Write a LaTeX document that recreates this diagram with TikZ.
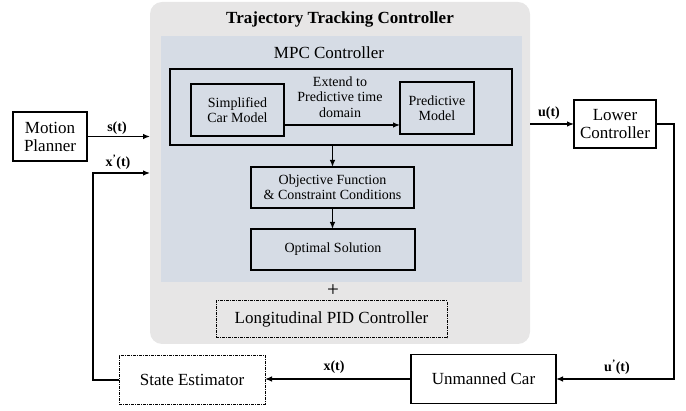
\documentclass[tikz,border=0pt]{standalone}
\usepackage{fontspec}
\setmainfont{Liberation Serif}
\usetikzlibrary{arrows.meta}
\definecolor{ttcgray}{HTML}{E7E6E6}
\definecolor{mpcblue}{HTML}{D6DCE5}
\newcommand\fsbig{\fontsize{17}{18}\selectfont}
\newcommand\fsmid{\fontsize{14}{15.3}\selectfont}
\newcommand\fslab{\fontsize{14}{15}\selectfont\bfseries}
\tikzset{
  blk/.style={draw, line width=1.2pt, inner sep=0pt, outer sep=0pt, align=center},
  dblk/.style={blk, line width=1pt, dash pattern=on 3pt off 1pt on 1pt off 1pt},
  area/.style={draw=none, inner sep=0pt, outer sep=0pt},
  arr/.style={-{Latex[length=7pt,width=5.5pt]}, line width=1.2pt},
  lab/.style={inner sep=0pt, font=\fslab},
}
\begin{document}
\begin{tikzpicture}[x=1pt,y=-1pt]
\useasboundingbox (0,0) rectangle (686,411);
% containers
\node[area, fill=ttcgray, rounded corners=12pt, minimum width=380pt, minimum height=342pt] (ttc) at (340,173) {};
\node[area, fill=mpcblue, minimum width=361pt, minimum height=246pt] (mpc) at (341.5,159) {};
\node[inner sep=0pt, font=\fsbig\bfseries] (ttct) at (340,19) {Trajectory Tracking Controller};
\node[inner sep=0pt, font=\fsbig] (mpct) at (329,53) {MPC Controller};
% MPC internals
\node[blk, minimum width=342pt, minimum height=76pt] (outer) at (341,107) {};
\node[blk, minimum width=93pt, minimum height=52pt, font=\fsmid] (simp) at (237.5,110) {Simplified\\Car Model};
\node[blk, minimum width=74pt, minimum height=52pt, font=\fsmid] (pred) at (437,108) {Predictive\\Model};
\node[inner sep=0pt, align=center, font=\fsmid] (ext) at (340,97) {Extend to\\Predictive time\\domain};
\node[blk, minimum width=163pt, minimum height=41pt, font=\fsmid] (obj) at (332.5,187.5) {Objective Function\\\& Constraint Conditions};
\node[blk, minimum width=164pt, minimum height=41pt, font=\fsmid] (opt) at (333,249.5) {Optimal Solution};
\node[inner sep=0pt, font=\fontsize{21}{21}\selectfont] (plus) at (333,291) {+};
\node[dblk, minimum width=231pt, minimum height=37pt, font=\fsbig] (pid) at (331.5,319.5) {Longitudinal PID Controller};
% outside blocks
\node[blk, minimum width=74pt, minimum height=49pt, font=\fsbig] (mp) at (50,136.5) {Motion\\Planner};
\node[blk, minimum width=82pt, minimum height=48pt, font=\fsbig] (lc) at (615,124) {Lower\\Controller};
\node[blk, minimum width=145pt, minimum height=49pt, font=\fsbig] (uc) at (483.5,379) {Unmanned Car};
\node[dblk, minimum width=146pt, minimum height=49pt, font=\fsbig] (se) at (192,380) {State Estimator};
% connectors
\coordinate (sa) at (simp.east |- 0,125);
\draw[arr] (sa) -- (sa -| pred.west);
\draw[arr] (obj.north |- outer.south) -- (obj.north);
\draw[arr] (obj.south) -- (obj.south |- opt.north);
\draw[arr] (mp.east) -- (mp.east -| ttc.west);
\coordinate (xin) at (ttc.west |- 0,173);
\coordinate (fbl) at (93,0);
\draw[arr] (se.west) -- (se.west -| fbl) |- (xin);
\draw[arr] (lc.west -| ttc.east) -- (lc.west);
\coordinate (fbr) at (674,0);
\draw[arr] (lc.east) -- (lc.east -| fbr) |- (uc.east);
\draw[arr] (uc.west) -- (uc.west -| se.east);
% labels
\node[lab] (ls) at (117,128) {s(t)};
\node[lab] (lx) at (118,162) {x\textsuperscript{\textquoteright}(t)};
\node[lab] (lu) at (549,113) {u(t)};
\node[lab] (lup) at (617,367) {u\textsuperscript{\textquoteright}(t)};
\node[lab] (lxt) at (334,367) {x(t)};
\end{tikzpicture}
\end{document}
